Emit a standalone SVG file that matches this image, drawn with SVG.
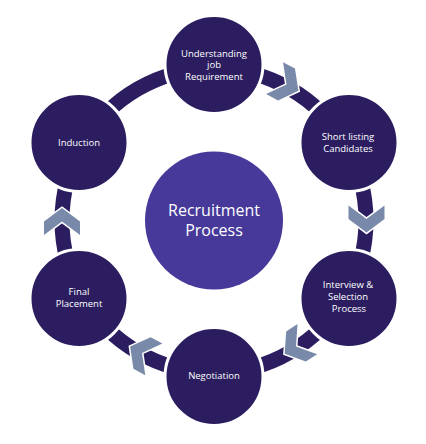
<svg xmlns="http://www.w3.org/2000/svg" width="426" height="444" viewBox="0 0 426 444">
<style>
.ring{fill:none;stroke:#2b1d5f;stroke-width:15}
.chev{fill:#7889aa;stroke:#ffffff;stroke-width:3;paint-order:stroke;stroke-linejoin:miter}
.node{fill:#2b1d5f;stroke:#ffffff;stroke-width:3}
.center{fill:#46399a}
.t{font-family:"Open Sans","Noto Sans",sans-serif;font-size:9.5px;fill:#ffffff;text-anchor:middle}
.tc{font-family:"Open Sans","Noto Sans",sans-serif;font-size:16px;fill:#ffffff;text-anchor:middle}
</style>
<defs>
<polygon id="chevron" points="-18,-13.5 0,0 18,-13.5 18,0 0,13.5 -18,0"/>
</defs>
<rect width="426" height="444" fill="#ffffff"/>
<g id="connectors">
<path class="ring" d="M214 68.5 A152 152 0 0 1 345.64 144.5"/>
<path class="ring" d="M345.64 144.5 A152 152 0 0 1 345.64 296.5"/>
<path class="ring" d="M345.64 296.5 A152 152 0 0 1 214 372.5"/>
<path class="ring" d="M214 372.5 A152 152 0 0 1 82.36 296.5"/>
<path class="ring" d="M82.36 296.5 A152 152 0 0 1 82.36 144.5"/>
<path class="ring" d="M82.36 144.5 A152 152 0 0 1 214 68.5"/>
<use href="#chevron" class="chev" transform="translate(286.5 84.5) rotate(-62)"/>
<use href="#chevron" class="chev" transform="translate(366.5 219)"/>
<use href="#chevron" class="chev" transform="translate(296 346.5) rotate(57)"/>
<use href="#chevron" class="chev" transform="translate(142 353) rotate(118.5)"/>
<use href="#chevron" class="chev" transform="translate(62 221.5) rotate(180)"/>
</g>
<g id="center">
<circle class="center" cx="214" cy="220.5" r="69"/>
<text class="tc" x="214" y="215.5">Recruitment</text>
<text class="tc" x="214" y="235.5">Process</text>
</g>
<g id="understanding">
<circle class="node" cx="214" cy="64.5" r="49"/>
<text class="t" x="214" y="56.5">Understanding</text>
<text class="t" x="214" y="68">job</text>
<text class="t" x="214" y="79.5">Requirement</text>
</g>
<g id="shortlisting">
<circle class="node" cx="349" cy="142.5" r="49"/>
<text class="t" x="348" y="140">Short listing</text>
<text class="t" x="348" y="151.5">Candidates</text>
</g>
<g id="interview">
<circle class="node" cx="349" cy="298.5" r="49"/>
<text class="t" x="348" y="288">Interview &amp;</text>
<text class="t" x="348" y="300">Selection</text>
<text class="t" x="349" y="311.5">Process</text>
</g>
<g id="negotiation">
<circle class="node" cx="214" cy="376.5" r="49"/>
<text class="t" x="214" y="379">Negotiation</text>
</g>
<g id="finalplacement">
<circle class="node" cx="79" cy="298.5" r="49"/>
<text class="t" x="79" y="295">Final</text>
<text class="t" x="79" y="306.5">Placement</text>
</g>
<g id="induction">
<circle class="node" cx="79" cy="142.5" r="49"/>
<text class="t" x="79" y="145.5">Induction</text>
</g>
</svg>
